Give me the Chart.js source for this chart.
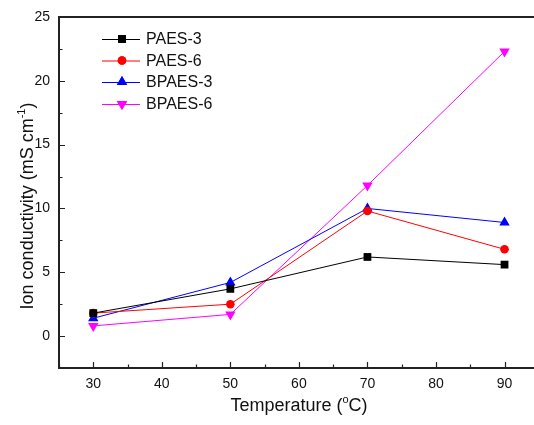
<!DOCTYPE html>
<html>
<head>
<meta charset="utf-8">
<script src="https://cdn.jsdelivr.net/npm/chart.js@4"></script>
<style>
  html, body { margin: 0; padding: 0; background: #fff; overflow: hidden; }
  #wrap { width: 534px; height: 425px; }
  #ionChart { display: block; }
</style>
</head>
<body>
<div id="wrap"><canvas id="ionChart" width="534" height="425"></canvas></div>
<script>
// data
const temperatures = [30, 50, 70, 90];
const paes3 = [1.8, 3.7, 6.2, 5.6];
const paes6 = [1.8, 2.5, 9.8, 6.8];
const bpaes3 = [1.4, 4.2, 10.0, 8.9];
const bpaes6 = [0.8, 1.7, 11.8, 22.3];

const xTicks = [30, 40, 50, 60, 70, 80, 90];
const xMinor = [25, 35, 45, 55, 65, 75, 85];
const yTicks = [0, 5, 10, 15, 20, 25];
const yMinor = [-2.5, 2.5, 7.5, 12.5, 17.5, 22.5];

const FONT = '"Liberation Sans", Arial, sans-serif';

const toPoints = (vals) => temperatures.map((t, i) => ({ x: t, y: vals[i] }));

const series = [
  { label: 'PAES-3', data: paes3, color: '#000000', style: 'rect', radius: 5.5, rotation: 0 },
  { label: 'PAES-6', data: paes6, color: '#ff0000', style: 'circle', radius: 4.3, rotation: 0 },
  { label: 'BPAES-3', data: bpaes3, color: '#0000ff', style: 'triangle', radius: 6, rotation: 0 },
  { label: 'BPAES-6', data: bpaes6, color: '#ff00ff', style: 'triangle', radius: 6, rotation: 180 }
];

// draws the sup-scripted title pieces centred on cx
function drawTitle(ctx, parts, cx, base) {
  const widths = parts.map(p => { ctx.font = p.size + 'px ' + FONT; return ctx.measureText(p.text).width; });
  let x = cx - widths.reduce((a, b) => a + b, 0) / 2;
  parts.forEach((p, i) => {
    ctx.font = p.size + 'px ' + FONT;
    ctx.fillText(p.text, x, base - (p.rise || 0));
    x += widths[i];
  });
}

// frame, inward ticks, axis titles and the legend box
const decorations = {
  id: 'decorations',
  afterDraw(chart) {
    const ctx = chart.ctx;
    const area = chart.chartArea;
    const xs = chart.scales.x, ys = chart.scales.y;
    ctx.save();

    // ticks (pointing into the plot)
    ctx.strokeStyle = '#222';
    ctx.lineWidth = 1.2;
    ctx.beginPath();
    xTicks.forEach(v => { const px = Math.round(xs.getPixelForValue(v)) + 0.5; ctx.moveTo(px, area.bottom); ctx.lineTo(px, area.bottom - 6); });
    xMinor.forEach(v => { const px = Math.round(xs.getPixelForValue(v)) + 0.5; ctx.moveTo(px, area.bottom); ctx.lineTo(px, area.bottom - 3.5); });
    yTicks.forEach(v => { const py = Math.round(ys.getPixelForValue(v)) + 0.5; ctx.moveTo(area.left, py); ctx.lineTo(area.left + 6, py); });
    yMinor.forEach(v => { const py = Math.round(ys.getPixelForValue(v)) + 0.5; ctx.moveTo(area.left, py); ctx.lineTo(area.left + 3.5, py); });
    ctx.stroke();

    // frame: top, left, bottom (the right side is cut off in the original)
    ctx.lineWidth = 2;
    ctx.strokeStyle = '#222';
    ctx.beginPath();
    ctx.moveTo(chart.width, area.top);
    ctx.lineTo(area.left, area.top);
    ctx.lineTo(area.left, area.bottom);
    ctx.lineTo(chart.width, area.bottom);
    ctx.stroke();

    // x title
    ctx.fillStyle = '#111';
    ctx.textAlign = 'left';
    ctx.textBaseline = 'alphabetic';
    drawTitle(ctx, [
      { text: 'Temperature (', size: 18 },
      { text: 'o', size: 11, rise: 8 },
      { text: 'C)', size: 18 }
    ], 299, 411);

    // y title (rotated)
    ctx.save();
    ctx.translate(33, 206);
    ctx.rotate(-Math.PI / 2);
    drawTitle(ctx, [
      { text: 'Ion conductivity (mS cm', size: 18 },
      { text: '-1', size: 11, rise: 8 },
      { text: ')', size: 18 }
    ], 0, 0);
    ctx.restore();

    // legend
    const rows = [39, 60.5, 82, 104];
    series.forEach((s, i) => {
      const y = rows[i];
      ctx.strokeStyle = s.color;
      ctx.lineWidth = 1;
      ctx.beginPath();
      ctx.moveTo(102, y + 0.5);
      ctx.lineTo(140, y + 0.5);
      ctx.stroke();
      ctx.fillStyle = s.color;
      Chart.helpers.drawPoint(ctx, { pointStyle: s.style, radius: s.radius, rotation: s.rotation, borderWidth: 0 }, 122, y);
      ctx.fill();
      ctx.fillStyle = '#111';
      ctx.font = '16px ' + FONT;
      ctx.textAlign = 'left';
      ctx.textBaseline = 'middle';
      ctx.fillText(s.label, 146, y + 1);
    });

    ctx.restore();
  }
};

new Chart(document.getElementById('ionChart'), {
  type: 'line',
  data: {
    datasets: series.map(s => ({
      label: s.label,
      data: toPoints(s.data),
      borderColor: s.color,
      backgroundColor: s.color,
      borderWidth: 1,
      pointStyle: s.style,
      pointRadius: s.radius,
      pointRotation: s.rotation,
      pointBorderWidth: 0,
      pointBackgroundColor: s.color,
      tension: 0,
      clip: false
    }))
  },
  options: {
    responsive: false,
    animation: false,
    layout: { autoPadding: false, padding: { top: 17, right: 0, left: 0, bottom: 0 } },
    plugins: { legend: { display: false }, tooltip: { enabled: false } },
    scales: {
      x: {
        type: 'linear',
        min: 25,
        max: 94.3, // the original axis runs on past the image's right edge
        afterBuildTicks: (scale) => { scale.ticks = xTicks.map(v => ({ value: v })); },
        afterFit: (scale) => { scale.height = 57; scale.paddingLeft = 0; scale.paddingRight = 0; },
        grid: { display: false, drawTicks: false },
        border: { display: false },
        ticks: { color: '#111', padding: 8, font: { family: FONT, size: 14 }, maxRotation: 0 }
      },
      y: {
        type: 'linear',
        min: -2.5,
        max: 25,
        afterBuildTicks: (scale) => { scale.ticks = yTicks.map(v => ({ value: v })); },
        afterFit: (scale) => { scale.width = 59; scale.paddingTop = 0; scale.paddingBottom = 0; },
        grid: { display: false, drawTicks: false },
        border: { display: false },
        ticks: { color: '#111', padding: 9, font: { family: FONT, size: 14 } }
      }
    }
  },
  plugins: [decorations]
});
</script>
</body>
</html>
